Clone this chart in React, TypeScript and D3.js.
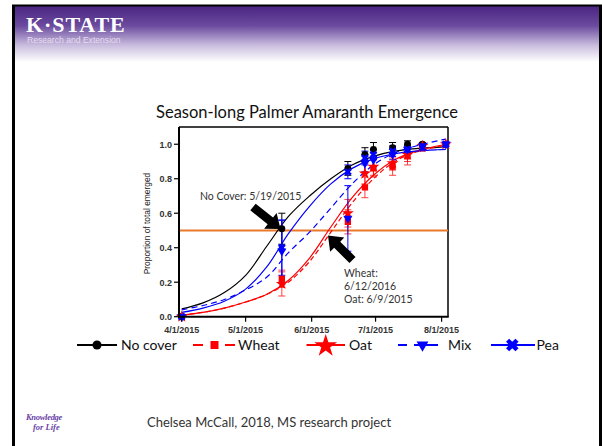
import React from 'react';
import * as d3 from 'd3';

// ---- observed data (proportion of total emerged) ----
const pointDates = ['2015-04-01', '2015-05-18', '2015-06-18', '2015-06-26', '2015-06-30', '2015-07-09', '2015-07-16', '2015-07-23', '2015-08-03'];
const noCoverMean = [0, 0.51, 0.86, 0.94, 0.97, 0.98, 1.0, 1.0, 1.0];
const noCoverErr = [0, 0.09, 0.04, 0.04, 0.04, 0.03, 0.02, 0.01, 0];
const wheatMean = [0, 0.22, 0.55, 0.75, 0.86, 0.87, 0.93, 0.98, 1.0];
const wheatErr = [0, 0.05, 0.07, 0.06, 0.05, 0.05, 0.05, 0.02, 0];
const oatMean = [0, 0.19, 0.6, 0.83, 0.87, 0.89, 0.94, 0.99, 1.0];
const oatErr = [0, 0.07, 0.08, 0.06, 0.05, 0.04, 0.04, 0.02, 0];
const mixMean = [0, 0.38, 0.57, 0.89, 0.91, 0.94, 0.97, 0.99, 1.0];
const mixErr = [0, 0.18, 0.19, 0.05, 0.04, 0.03, 0.02, 0.01, 0];
const peaMean = [0, 0.4, 0.84, 0.92, 0.94, 0.96, 0.97, 0.98, 1.0];
const peaErr = [0, 0.16, 0.04, 0.04, 0.03, 0.03, 0.02, 0.01, 0];

// ---- fitted curves ----
const curveDates = ['2015-04-01', '2015-04-11', '2015-04-21', '2015-05-01', '2015-05-11', '2015-05-21', '2015-05-31', '2015-06-10', '2015-06-20', '2015-06-30', '2015-07-10', '2015-07-20', '2015-07-30', '2015-08-03'];
const noCoverFit = [0.045, 0.08, 0.14, 0.24, 0.41, 0.58, 0.7, 0.8, 0.88, 0.93, 0.96, 0.975, 0.982, 0.985];
const wheatFit = [0.01, 0.025, 0.05, 0.085, 0.13, 0.2, 0.32, 0.49, 0.66, 0.8, 0.9, 0.955, 0.985, 0.995];
const oatFit = [0.01, 0.025, 0.05, 0.085, 0.13, 0.21, 0.34, 0.52, 0.69, 0.82, 0.91, 0.96, 0.99, 1.0];
const mixFit = [0.04, 0.065, 0.1, 0.155, 0.23, 0.37, 0.49, 0.63, 0.77, 0.88, 0.95, 0.99, 1.02, 1.03];
const peaFit = [0.025, 0.05, 0.09, 0.16, 0.29, 0.48, 0.64, 0.77, 0.86, 0.915, 0.945, 0.96, 0.968, 0.97];

const seriesNames = ['No cover', 'Wheat', 'Oat', 'Mix', 'Pea'];
const xTickDates = ['2015-04-01', '2015-05-01', '2015-06-01', '2015-07-01', '2015-08-01'];
const yTickValues = [0, 0.2, 0.4, 0.6, 0.8, 1.0];
const xDomain = ['2015-03-30T17:30', '2015-08-04T00:00'];
const yDomain = [0, 1.1];
const threshold = 0.5;

const parse = d3.timeParse('%Y-%m-%d');
const parseT = d3.timeParse('%Y-%m-%dT%H:%M');

const W = 602, H = 446;
const plot = { left: 179, right: 448, top: 127, bottom: 316.7 };

const x = d3.scaleTime().domain(xDomain.map((d) => parseT(d) as Date)).range([plot.left, plot.right]);
const y = d3.scaleLinear().domain(yDomain).range([plot.bottom, plot.top]);
const fmtX = d3.timeFormat('%-m/%-d/%Y');

type Marker = 'circle' | 'square' | 'star' | 'triDown' | 'x';
const styles: { color: string; dash: string | null; marker: Marker; width: number }[] = [
  { color: '#000000', dash: null, marker: 'circle', width: 1.2 },
  { color: '#ff0000', dash: '5,3', marker: 'square', width: 1.2 },
  { color: '#ff0000', dash: null, marker: 'star', width: 1.2 },
  { color: '#0000ff', dash: '6,4', marker: 'triDown', width: 1.2 },
  { color: '#0000ff', dash: null, marker: 'x', width: 1.2 },
];
const means = [noCoverMean, wheatMean, oatMean, mixMean, peaMean];
const errs = [noCoverErr, wheatErr, oatErr, mixErr, peaErr];
const fits = [noCoverFit, wheatFit, oatFit, mixFit, peaFit];

function markerPath(m: Marker, scale: number): { d: string; rot: number } {
  switch (m) {
    case 'circle':
      return { d: d3.symbol(d3.symbolCircle, 38 * scale)() as string, rot: 0 };
    case 'square':
      return { d: d3.symbol(d3.symbolSquare, 40 * scale)() as string, rot: 0 };
    case 'star':
      return { d: d3.symbol(d3.symbolStar, 45 * scale)() as string, rot: 0 };
    case 'triDown':
      return { d: d3.symbol(d3.symbolTriangle, 36 * scale)() as string, rot: 180 };
    case 'x':
      return { d: d3.symbol(d3.symbolCross, 38 * scale)() as string, rot: 45 };
  }
}

function MarkerShape({ m, cx, cy, color, scale = 1 }: { m: Marker; cx: number; cy: number; color: string; scale?: number }) {
  const { d, rot } = markerPath(m, scale);
  return <path d={d} transform={`translate(${cx},${cy}) rotate(${rot})`} fill={color} stroke="none" />;
}

function arrowPath(x1: number, y1: number, x2: number, y2: number, sw: number, hw: number, hl: number) {
  const dx = x2 - x1, dy = y2 - y1;
  const L = Math.hypot(dx, dy);
  const ux = dx / L, uy = dy / L;
  const nx = -uy, ny = ux;
  const bx = x2 - ux * hl, by = y2 - uy * hl;
  const pts = [
    [x1 + nx * sw, y1 + ny * sw],
    [bx + nx * sw, by + ny * sw],
    [bx + nx * hw, by + ny * hw],
    [x2, y2],
    [bx - nx * hw, by - ny * hw],
    [bx - nx * sw, by - ny * sw],
    [x1 - nx * sw, y1 - ny * sw],
  ];
  return 'M' + pts.map((p) => p.join(',')).join('L') + 'Z';
}

export default function App() {
  const line = d3
    .line<[Date, number]>()
    .x((d) => x(d[0]))
    .y((d) => y(d[1]))
    .curve(d3.curveCatmullRom.alpha(0.5));

  const font = 'Lato, "Liberation Sans", Arial, sans-serif';
  const arial = '"Liberation Sans", Arial, sans-serif';
  const drawOrder = [0, 1, 2, 3, 4];

  return (
    <svg width={W} height={H} style={{ position: 'absolute', left: 0, top: 0, background: '#fff' }}>
      <defs>
        <linearGradient id="hdr" x1="0" y1="0" x2="0" y2="1">
          <stop offset="0" stopColor="#4b2582" />
          <stop offset="0.35" stopColor="#6a4a9e" />
          <stop offset="0.7" stopColor="#c9bcde" />
          <stop offset="1" stopColor="#ffffff" />
        </linearGradient>
        <clipPath id="plotClip">
          <rect x={plot.left} y={plot.top} width={plot.right - plot.left} height={plot.bottom - plot.top + 4} />
        </clipPath>
      </defs>

      {/* slide frame + header */}
      <rect x={13} y={6} width={588} height={56} fill="url(#hdr)" />
      <line x1={12} y1={5.5} x2={602} y2={5.5} stroke="#000" strokeWidth={2} />
      <line x1={13.5} y1={5} x2={13.5} y2={H} stroke="#000" strokeWidth={3} />
      <line x1={600.5} y1={5} x2={600.5} y2={H} stroke="#000" strokeWidth={3} />
      <text x={26} y={31.5} fill="#fff" fontFamily='"Liberation Serif", "DejaVu Serif", serif' fontWeight="bold" fontSize={22} letterSpacing={0.9}>
        K·STATE
      </text>
      <text x={27} y={43} fill="#e4dcef" fontFamily={arial} fontSize={8.6}>
        Research and Extension
      </text>

      {/* title */}
      <text x={307} y={118.3} textAnchor="middle" fontFamily={font} fontSize={16.5} fill="#111">
        Season-long Palmer Amaranth Emergence
      </text>

      {/* plot frame */}
      <line x1={plot.left} y1={plot.top} x2={plot.right} y2={plot.top} stroke="#000" strokeWidth={1.5} />
      <line x1={plot.right} y1={plot.top} x2={plot.right} y2={plot.bottom} stroke="#000" strokeWidth={1.5} />

      {/* threshold line */}
      <line x1={plot.left} x2={plot.right} y1={y(threshold)} y2={y(threshold)} stroke="#e9792a" strokeWidth={2} />

      {/* fitted curves */}
      <g clipPath="url(#plotClip)">
        {drawOrder.map((i) => (
          <path
            key={'c' + i}
            d={line(curveDates.map((d, k) => [parse(d) as Date, fits[i][k]])) as string}
            fill="none"
            stroke={styles[i].color}
            strokeWidth={styles[i].width}
            strokeDasharray={styles[i].dash ?? undefined}
          />
        ))}
      </g>

      {/* error bars */}
      {drawOrder.map((i) => (
        <g key={'e' + i} stroke={styles[i].color} strokeWidth={1} opacity={i === 1 || i === 2 ? 0.75 : 1}>
          {pointDates.map((d, k) => {
            if (errs[i][k] <= 0) return null;
            const cx = x(parse(d) as Date);
            const y1 = y(means[i][k] + errs[i][k]);
            const y2 = y(means[i][k] - errs[i][k]);
            return (
              <g key={k}>
                <line x1={cx} x2={cx} y1={y1} y2={y2} />
                <line x1={cx - 3.5} x2={cx + 3.5} y1={y1} y2={y1} />
                <line x1={cx - 3.5} x2={cx + 3.5} y1={y2} y2={y2} />
              </g>
            );
          })}
        </g>
      ))}

      {/* markers */}
      {drawOrder.map((i) => (
        <g key={'m' + i}>
          {pointDates.map((d, k) => (
            <MarkerShape key={k} m={styles[i].marker} cx={x(parse(d) as Date)} cy={y(means[i][k])} color={styles[i].color} />
          ))}
        </g>
      ))}

      {/* axes */}
      <line x1={plot.left} y1={plot.top} x2={plot.left} y2={plot.bottom + 1} stroke="#000" strokeWidth={2} />
      <line x1={plot.left - 1} y1={plot.bottom} x2={plot.right + 0.75} y2={plot.bottom} stroke="#000" strokeWidth={2} />
      {yTickValues.map((v) => (
        <g key={'yt' + v}>
          <line x1={plot.left - 5} x2={plot.left} y1={y(v)} y2={y(v)} stroke="#000" strokeWidth={1.2} />
          <text x={plot.left - 7} y={y(v) + 3.3} textAnchor="end" fontFamily={arial} fontSize={9} fontWeight="bold" fill="#333">
            {v.toFixed(1)}
          </text>
        </g>
      ))}
      {xTickDates.map((d) => {
        const dt = parse(d) as Date;
        return (
          <g key={'xt' + d}>
            <line x1={x(dt)} x2={x(dt)} y1={plot.bottom} y2={plot.bottom + 5} stroke="#000" strokeWidth={1.2} />
            <text x={x(dt)} y={332.5} textAnchor="middle" fontFamily={arial} fontSize={9} fontWeight="bold" fill="#333">
              {fmtX(dt)}
            </text>
          </g>
        );
      })}
      <text
        transform={`translate(150,223.5) rotate(-90)`}
        textAnchor="middle"
        fontFamily={arial}
        fontSize={8.4}
        fill="#222"
      >
        Proportion of total emerged
      </text>

      {/* annotations */}
      <text x={200} y={200} fontFamily={font} fontSize={10.5} fill="#333">
        No Cover: 5/19/2015
      </text>
      <path d={arrowPath(253, 207, 280.5, 229, 4.3, 10, 13)} fill="#000" />
      <path d={arrowPath(352.5, 260, 328, 235.5, 4.3, 10, 13)} fill="#000" />
      <text fontFamily={font} fontSize={10.5} fill="#333">
        <tspan x={344} y={276.5}>Wheat:</tspan>
        <tspan x={344} y={289.8}>6/12/2016</tspan>
        <tspan x={344} y={303.3}>Oat: 6/9/2015</tspan>
      </text>

      {/* legend */}
      <g fontFamily={font} fontSize={14} fill="#111">
        <line x1={77} x2={117} y1={345} y2={345} stroke="#000" strokeWidth={2} />
        <MarkerShape m="circle" cx={97} cy={345} color="#000" scale={1.7} />
        <text x={121} y={350}>{seriesNames[0]}</text>

        <line x1={193} x2={235} y1={345} y2={345} stroke="#ff0000" strokeWidth={2.2} strokeDasharray="10,22" />
        <MarkerShape m="square" cx={214.5} cy={345} color="#ff0000" scale={1.6} />
        <text x={238} y={350}>{seriesNames[1]}</text>

        <line x1={306.5} x2={345} y1={345} y2={345} stroke="#ff0000" strokeWidth={2.2} />
        <MarkerShape m="star" cx={325.7} cy={346} color="#ff0000" scale={3.6} />
        <text x={349} y={350}>{seriesNames[2]}</text>

        <line x1={398} x2={438} y1={345} y2={345} stroke="#0000ff" strokeWidth={2.2} strokeDasharray="9,7,24" />
        <MarkerShape m="triDown" cx={422.5} cy={345} color="#0000ff" scale={1.7} />
        <text x={448} y={350}>{seriesNames[3]}</text>

        <line x1={491} x2={535} y1={345} y2={345} stroke="#0000ff" strokeWidth={2.2} />
        <MarkerShape m="x" cx={512.3} cy={345} color="#0000ff" scale={2.6} />
        <text x={536.5} y={350}>{seriesNames[4]}</text>
      </g>

      {/* footer */}
      <g fontFamily='"Liberation Serif", serif' fontStyle="italic" fontWeight="bold" fill="#6b3fa6">
        <text x={26} y={420} fontSize={8.5} letterSpacing={-0.3}>Knowledge</text>
        <text x={33} y={430} fontSize={8.5}>for Life</text>
      </g>
      <text x={147} y={426.5} fontFamily={font} fontSize={13} fill="#333">
        Chelsea McCall, 2018, MS research project
      </text>
    </svg>
  );
}
